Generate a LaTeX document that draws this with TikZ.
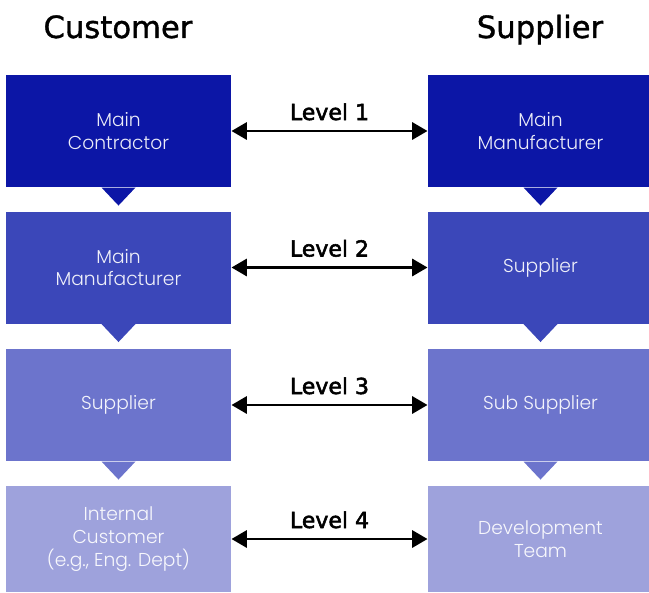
\documentclass[tikz,border=0pt]{standalone}
\usepackage{fontspec}
\setmainfont{DejaVu Sans}
\newfontfamily\boxfont{Poppins Light}
\newfontfamily\headfont[FakeBold=1.2]{DejaVu Sans}
\newfontfamily\levelfont[FakeBold=2.4]{DejaVu Sans}
\usetikzlibrary{arrows.meta}

\definecolor{tierA}{RGB}{12,22,166}
\definecolor{tierB}{RGB}{59,71,185}
\definecolor{tierC}{RGB}{108,116,204}
\definecolor{tierD}{RGB}{158,162,220}

\begin{document}
\begin{tikzpicture}[x=0.75pt,y=-0.75pt,thick,
    tier node/.style={rectangle,inner sep=0pt,minimum width=168.75pt,minimum height=84pt,align=center,
        text=white,text opacity=0.92,font=\boxfont\fontsize{14}{17}\selectfont},
    head node/.style={anchor=base,font=\headfont\fontsize{23}{28}\selectfont},
    level arrow/.style={{Triangle[length=11.5pt,width=13pt]}-{Triangle[length=11.5pt,width=13pt]},line width=1.6pt},
    level label/.style={anchor=base,yshift=8.25pt,font=\levelfont\fontsize{16.5}{20}\selectfont}]
    \useasboundingbox (0,0) rectangle (649,592);

    \node[head node] (cust) at (118,38) {Customer};
    \node[head node] (supp) at (540,38) {Supplier};

    % customer side
    \node[tier node,fill=tierA] (c1) at (118.5,131) {Main\\Contractor};
    \node[tier node,fill=tierB] (c2) at (118.5,267.5) {Main\\Manufacturer};
    \node[tier node,fill=tierC] (c3) at (118.5,405) {Supplier};
    \node[tier node,fill=tierD,minimum height=79.5pt] (c4) at (118.5,539) {Internal\\Customer\\(e.g., Eng. Dept)};

    % supplier side
    \node[tier node,fill=tierA] (s1) at (540.5,131) {Main\\Manufacturer};
    \node[tier node,fill=tierB] (s2) at (540.5,267.5) {Supplier};
    \node[tier node,fill=tierC] (s3) at (540.5,405) {Sub Supplier};
    \node[tier node,fill=tierD,minimum height=79.5pt] (s4) at (540.5,539) {Development\\Team};

    % pointers under the boxes
    \fill[tierA] (c1.south) ++(-17,0) -- ++(17,18) -- ++(17,-18) -- cycle;
    \fill[tierB] (c2.south) ++(-17,0) -- ++(17,18) -- ++(17,-18) -- cycle;
    \fill[tierC] (c3.south) ++(-17,0) -- ++(17,18) -- ++(17,-18) -- cycle;
    \fill[tierA] (s1.south) ++(-17,0) -- ++(17,18) -- ++(17,-18) -- cycle;
    \fill[tierB] (s2.south) ++(-17,0) -- ++(17,18) -- ++(17,-18) -- cycle;
    \fill[tierC] (s3.south) ++(-17,0) -- ++(17,18) -- ++(17,-18) -- cycle;

    \path[level arrow]
        (c1.east) edge node[level label] {Level 1} (s1.west)
        (c2.east) edge node[level label] {Level 2} (s2.west)
        (c3.east) edge node[level label] {Level 3} (s3.west)
        (c4.east) edge node[level label] {Level 4} (s4.west)
        ;
\end{tikzpicture}
\end{document}
